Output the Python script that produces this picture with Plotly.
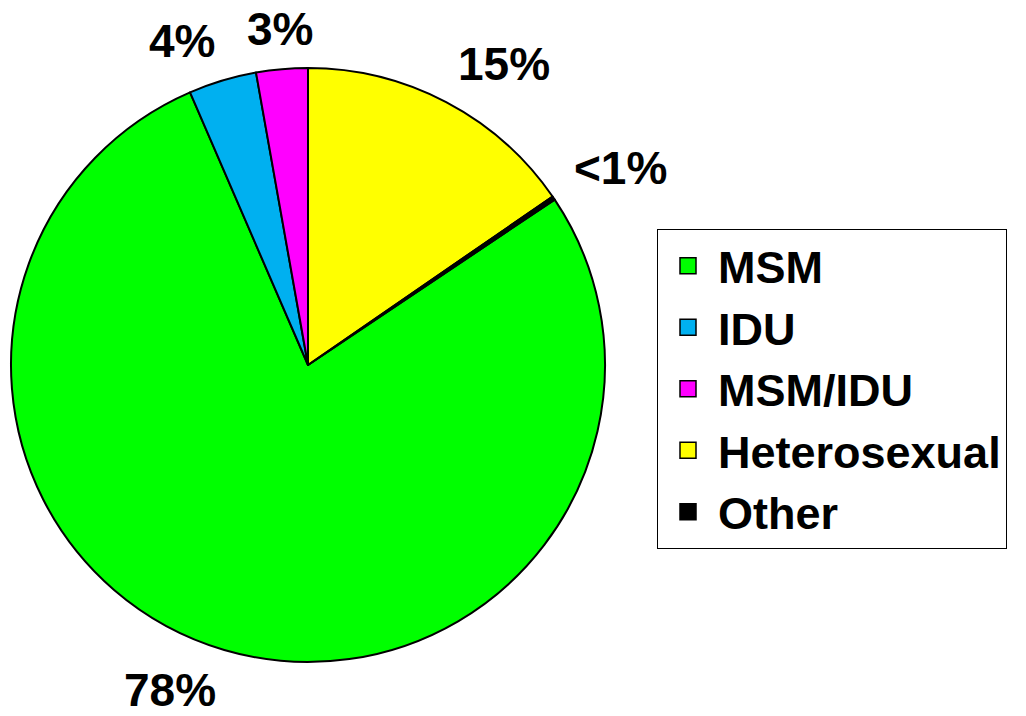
import math
import plotly.graph_objects as go

categories = ["MSM", "IDU", "MSM/IDU", "Heterosexual", "Other"]
values = [77.9, 3.7, 2.8, 15.4, 0.2]
label_text = ["78%", "4%", "3%", "15%", "<1%"]
colors = ["#00FF00", "#00B0F0", "#FF00FF", "#FFFF00", "#000000"]

FONT = "Liberation Sans, Arial, sans-serif"
W, H = 1026, 716
LABEL_SIZE = 46

# pie geometry (pixels)
CX, CY, R = 308, 365, 297
dom_x = [(CX - R) / W, (CX + R) / W]
dom_y = [1 - (CY + R) / H, 1 - (CY - R) / H]

total = sum(values)
# slices run clockwise; Heterosexual starts at 12 o'clock, so MSM begins
# after Heterosexual + Other
start_deg = (values[3] + values[4]) / total * 360.0

fig = go.Figure(go.Pie(
    labels=categories,
    values=values,
    textinfo="none",
    sort=False,
    direction="clockwise",
    rotation=start_deg,
    marker=dict(colors=colors, line=dict(color="black", width=2)),
    domain=dict(x=dom_x, y=dom_y),
    hoverinfo="label+percent",
    showlegend=False,
))

# legend entries (larger square keys than the pie's built-in legend)
for cat, col in zip(categories, colors):
    fig.add_trace(go.Scatter(
        x=[None], y=[None], mode="markers", name=cat,
        marker=dict(symbol="square", size=16, color=col,
                    line=dict(color="black", width=1.5)),
        hoverinfo="skip",
    ))

# outside-end data labels, placed from each slice's mid angle
GAP = 24
HALF_CAP = 0.36 * LABEL_SIZE
ang = start_deg
for lab, v in zip(label_text, values):
    span = v / total * 360.0
    mid = math.radians(ang + span / 2)
    ang += span
    s, c = math.sin(mid), -math.cos(mid)   # screen direction (x right, y down)
    px = CX + (R + GAP) * s
    py = CY + (R + GAP) * c
    if abs(s) < 0.25:
        xa = "center"
    else:
        xa = "left" if s > 0 else "right"
    if abs(c) >= 0.25:
        py += HALF_CAP if c > 0 else -HALF_CAP
    fig.add_annotation(
        x=px / W, y=1 - py / H, xref="paper", yref="paper",
        text=lab, showarrow=False, xanchor=xa, yanchor="middle",
        font=dict(family=FONT, size=LABEL_SIZE, color="black", weight="bold"),
        borderpad=0,
    )

fig.update_layout(
    width=W, height=H, autosize=False,
    margin=dict(l=0, r=0, t=0, b=0, pad=0),
    paper_bgcolor="white",
    plot_bgcolor="white",
    xaxis=dict(visible=False),
    yaxis=dict(visible=False),
    showlegend=True,
    legend=dict(
        x=657 / W, y=1 - 229 / H, xanchor="left", yanchor="top",
        font=dict(family=FONT, size=45, color="black", weight="bold"),
        bordercolor="black", borderwidth=1, bgcolor="white",
        traceorder="normal", itemwidth=50, tracegroupgap=0,
    ),
)

fig.write_html("out.html", config={"displayModeBar": False},
               post_script="document.body.style.margin='0';")
